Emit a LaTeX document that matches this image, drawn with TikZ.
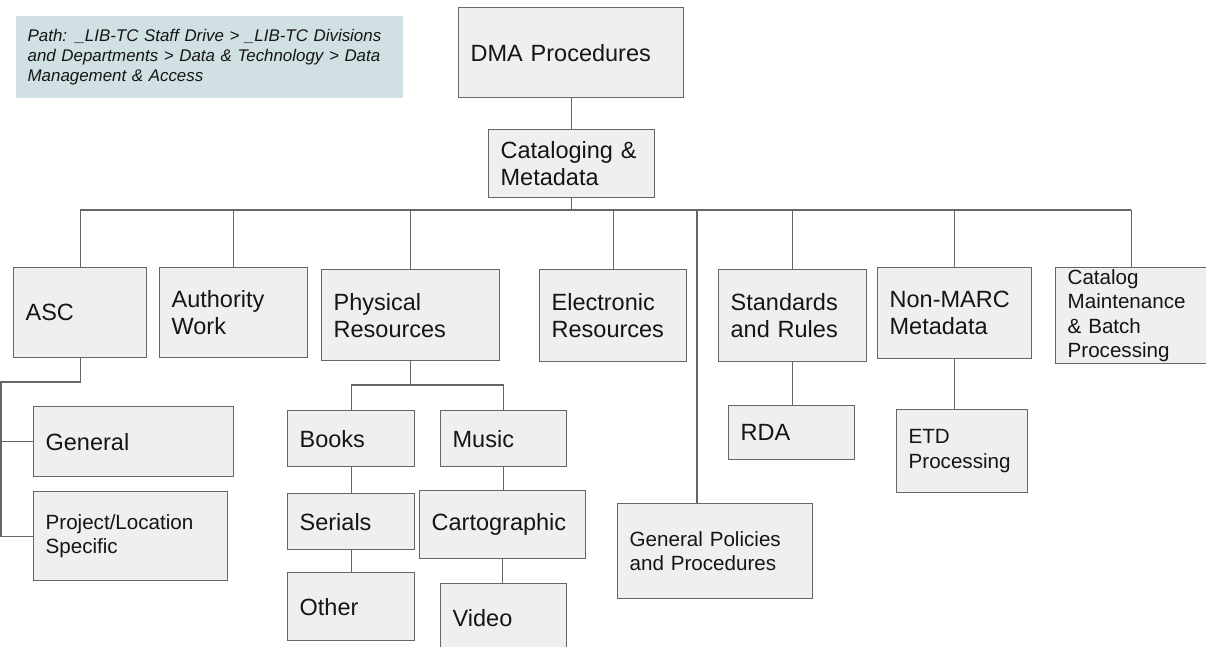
\documentclass[tikz,border=0pt]{standalone}
\usepackage{fontspec}
\setmainfont{Liberation Sans}
\definecolor{boxfill}{HTML}{EFEFEF}
\definecolor{boxline}{HTML}{666666}
\definecolor{pathfill}{HTML}{D0E0E3}
\definecolor{txt}{HTML}{151515}
\tikzset{
  box/.style={draw=boxline, fill=boxfill, line width=1.3pt, anchor=north west,
    inner xsep=12pt, inner ysep=0pt, align=left, text=txt,
    font=\fontsize{23.5}{27}\selectfont},
  smalltext/.style={font=\fontsize{20.6}{24.5}\selectfont},
  pathbox/.style={draw=none, fill=pathfill, font=\fontsize{16.9}{20}\selectfont\itshape},
  conn/.style={draw=boxline, line width=1.3pt},
}
% #1 options, #2 name, #3 x1, #4 y1, #5 x2, #6 y2, #7 text
\newcommand\mkbox[7][]{%
  \node[box,#1,text width={(#5-#3-24)*1pt}, minimum width={(#5-#3)*1pt},
        minimum height={(#6-#4)*1pt}] (#2) at (#3,#4) {#7};}
\begin{document}
\begin{tikzpicture}[x=1pt,y=-1pt]
\fill[white] (0,0) rectangle (1206,647);
\useasboundingbox (0,0) rectangle (1206,647);

\mkbox[pathbox]{path}{15}{15}{402}{97}{Path: \_LIB-TC Staff Drive > \_LIB-TC Divisions\\and Departments > Data \& Technology > Data\\Management \& Access}

\mkbox{dma}{458}{7}{683}{97}{DMA Procedures}
\mkbox{cat}{488}{129}{654}{197}{Cataloging \&\\Metadata}

\mkbox{asc}{13}{267}{146}{357}{ASC}
\mkbox{auth}{159}{267}{307}{357}{Authority\\Work}
\mkbox{phys}{321}{269}{499}{360}{Physical\\Resources}
\mkbox{elec}{539}{269}{686}{361}{Electronic\\Resources}
\mkbox{std}{718}{269}{866}{361}{Standards\\and Rules}
\mkbox{nonmarc}{877}{267}{1031}{358}{Non-MARC\\Metadata}
\mkbox[smalltext]{catalog}{1055}{267}{1206}{363}{Catalog\\Maintenance\\\& Batch\\Processing}

\mkbox{general}{33}{406}{233}{476}{General}
\mkbox[smalltext]{project}{33}{491}{227}{580}{Project/Location\\Specific}

\mkbox{books}{287}{410}{414}{466}{Books}
\mkbox{serials}{287}{493}{414}{549}{Serials}
\mkbox{other}{287}{572}{414}{640}{Other}
\mkbox{music}{440}{410}{566}{466}{Music}
\mkbox{carto}{419}{490}{585}{558}{Cartographic}
\mkbox{video}{440}{583}{566}{651}{Video}

\mkbox[smalltext]{gp}{617}{503}{812}{598}{General Policies\\and Procedures}
\mkbox{rda}{728}{405}{854}{459}{RDA}
\mkbox[smalltext]{etd}{896}{409}{1027}{492}{ETD\\Processing}

% connectors
\coordinate (bus) at (cat.south |- 0,210);
\coordinate (ascl) at (1,382);
\coordinate (physj) at (phys.south |- 0,385);

\draw[conn] (dma.south) -- (dma.south |- cat.north);
\draw[conn] (cat.south) -- (bus);
\draw[conn] (asc.north |- bus) -- (catalog.north |- bus);
\draw[conn] (asc.north |- bus) -- (asc.north);
\draw[conn] (auth.north |- bus) -- (auth.north);
\draw[conn] (phys.north |- bus) -- (phys.north);
\draw[conn] (elec.north |- bus) -- (elec.north);
\draw[conn] ([xshift=80pt]gp.north west |- bus) -- ([xshift=80pt]gp.north west);
\draw[conn] (std.north |- bus) -- (std.north);
\draw[conn] (nonmarc.north |- bus) -- (nonmarc.north);
\draw[conn] (catalog.north |- bus) -- (catalog.north);

\draw[conn] (asc.south) |- (ascl) |- (project.west);
\draw[conn] (ascl |- general.west) -- (general.west);

\draw[conn] (phys.south) -- (physj);
\draw[conn] (books.north |- physj) -- (music.north |- physj);
\draw[conn] (books.north |- physj) -- (books.north);
\draw[conn] (music.north |- physj) -- (music.north);
\draw[conn] (books.south) -- (serials.north);
\draw[conn] (serials.south) -- (other.north);
\draw[conn] (music.south) -- (music.south |- carto.north);
\draw[conn] (carto.south) -- (carto.south |- video.north);

\draw[conn] (std.south) -- (std.south |- rda.north);
\draw[conn] (nonmarc.south) -- (nonmarc.south |- etd.north);
\end{tikzpicture}
\end{document}
